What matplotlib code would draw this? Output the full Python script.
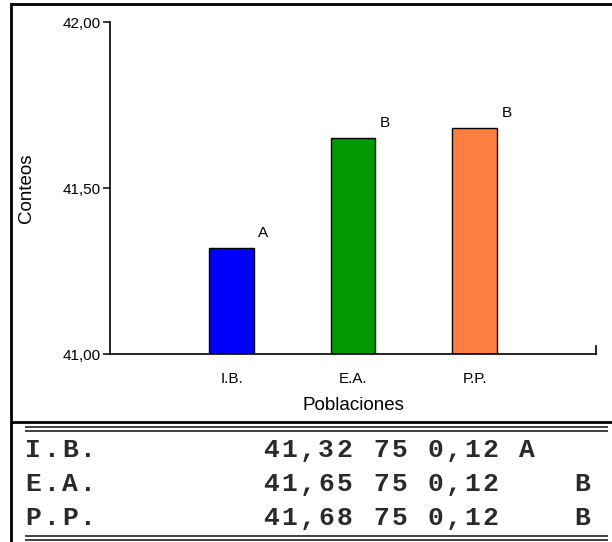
import matplotlib
matplotlib.use('Agg')
import matplotlib.pyplot as plt
from matplotlib.lines import Line2D
from matplotlib.ticker import FuncFormatter

# data
poblaciones = ['I.B.', 'E.A.', 'P.P.']
medias = [41.32, 41.65, 41.68]
n_obs = [75, 75, 75]
ee = [0.12, 0.12, 0.12]
grupos = ['A', 'B', 'B']
colores = ['#0000ff', '#009a00', '#ff7f40']

W, H = 612, 542
plt.rcParams['font.family'] = ['Liberation Sans', 'DejaVu Sans']

fig = plt.figure(figsize=(W / 100, H / 100), dpi=100)


def fx(x):
    return x / W


def fy(y):
    return 1 - y / H


def hline(y, x0, x1, lw=1.5, color='black'):
    fig.add_artist(Line2D([fx(x0), fx(x1)], [fy(y), fy(y)], lw=lw, color=color,
                          transform=fig.transFigure, solid_capstyle='butt'))


# chart area
ax = fig.add_axes([fx(110), fy(354), fx(596) - fx(110), fy(22) - fy(354)])
pos = list(range(1, len(poblaciones) + 1))
ax.bar(pos, [m - 41 for m in medias], bottom=41, width=0.37, color=colores,
       edgecolor='black', linewidth=1.0)

for p, m, g in zip(pos, medias, grupos):
    ax.annotate(g, xy=(p, m), xytext=(32, 8), textcoords='offset pixels',
                ha='center', va='bottom', fontsize=11)

ax.set_xlim(0, 4)
ax.set_ylim(41, 42)
ax.set_yticks([41.0, 41.5, 42.0])
ax.yaxis.set_major_formatter(FuncFormatter(lambda v, _: f'{v:.2f}'.replace('.', ',')))
ax.set_xticks(pos)
ax.set_xticklabels(poblaciones)
ax.tick_params(axis='x', length=0, pad=13, labelsize=11)
ax.tick_params(axis='y', length=5, width=1.1, pad=2, labelsize=11)

for side in ['top', 'right']:
    ax.spines[side].set_visible(False)
for side in ['left', 'bottom']:
    ax.spines[side].set_linewidth(1.2)

# small end mark on the x axis
ax.plot([1, 1], [0, 0.025], transform=ax.transAxes, color='black', lw=1.2,
        clip_on=False)

ax.set_xlabel('Poblaciones', fontsize=13.5)
ax.xaxis.set_label_coords(0.5, -(406 - 354) / 332)
ax.xaxis.label.set_va('center')
ax.set_ylabel('Conteos', fontsize=13.5)
ax.yaxis.set_label_coords(-(110 - 27) / 486, 0.5)
ax.yaxis.label.set_va('center')

# outer frame and divider
hline(4, 11, W, lw=2.0)
fig.add_artist(Line2D([fx(11), fx(11)], [fy(4), fy(H)], lw=2.0, color='black',
                      transform=fig.transFigure))
hline(422, 11, W, lw=2.0)

# table lines
for y in (427, 431, 536, 539.5):
    hline(y, 25, 608, lw=1.4, color='#404040')

# table rows, fixed character grid like the original text output
col_w = 18.3
x0 = 24
filas_y = [457, 491, 525]
for nombre, m, n, e, g, y in zip(poblaciones, medias, n_obs, ee, grupos, filas_y):
    col_a = 'A' if g == 'A' else ' '
    col_b = 'B' if g == 'B' else ''
    valores = f'{m:.2f} {n} {e:.2f} {col_a}'.replace('.', ',')
    texto = f'{nombre:<13}{valores}'
    texto = f'{texto:<30}{col_b}'.rstrip()
    for i, ch in enumerate(texto):
        if ch == ' ':
            continue
        fig.text(fx(x0 + (i + 0.5) * col_w), fy(y), ch, family='Liberation Mono',
                 fontsize=19, fontweight='bold', va='baseline', ha='center',
                 color='#2a2a2a')

fig.savefig('out.png', dpi=100)
